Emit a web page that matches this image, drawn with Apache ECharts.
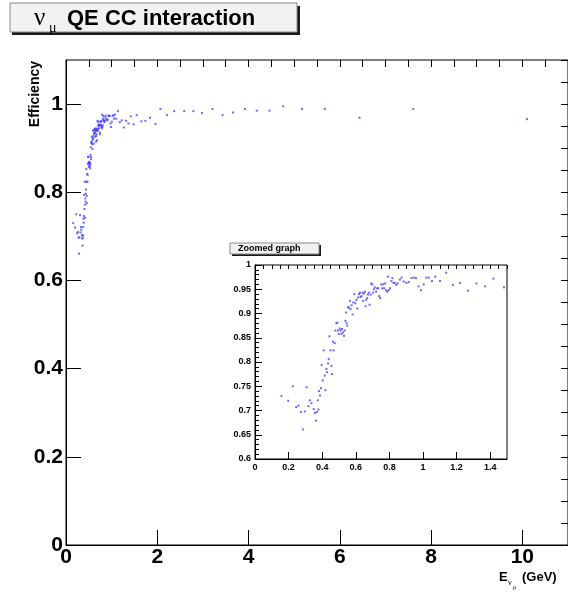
<!DOCTYPE html>
<html>
<head>
<meta charset="utf-8">
<script src="https://cdn.jsdelivr.net/npm/echarts@6/dist/echarts.min.js"></script>
<style>
  html, body { margin: 0; padding: 0; background: #ffffff; }
  #chart { width: 568px; height: 593px; }
</style>
</head>
<body>
<div id="chart"></div>
<script>
// Muon-neutrino QE CC selection efficiency versus neutrino energy (GeV)
const energyGeV = [
  0.158, 0.198, 0.225, 0.245, 0.259, 0.273, 0.285, 0.296, 0.308, 0.318,
  0.326, 0.336, 0.350, 0.356, 0.362, 0.368, 0.374, 0.377, 0.381, 0.387,
  0.393, 0.397, 0.403, 0.409, 0.415, 0.419, 0.425, 0.429, 0.435, 0.439,
  0.443, 0.449, 0.455, 0.458, 0.464, 0.468, 0.474, 0.478, 0.484, 0.490,
  0.494, 0.498, 0.504, 0.510, 0.514, 0.518, 0.524, 0.530, 0.534, 0.538,
  0.542, 0.545, 0.549, 0.553, 0.559, 0.565, 0.569, 0.575, 0.581, 0.585,
  0.591, 0.597, 0.603, 0.609, 0.613, 0.619, 0.625, 0.628, 0.634, 0.640,
  0.644, 0.648, 0.654, 0.658, 0.662, 0.668, 0.672, 0.678, 0.682, 0.688,
  0.692, 0.698, 0.702, 0.708, 0.713, 0.721, 0.727, 0.733, 0.739, 0.745,
  0.751, 0.757, 0.763, 0.769, 0.775, 0.781, 0.787, 0.791, 0.796, 0.804,
  0.812, 0.818, 0.824, 0.832, 0.840, 0.850, 0.862, 0.872, 0.885, 0.901,
  0.915, 0.931, 0.945, 0.958, 0.974, 0.988, 1.004, 1.020, 1.034, 1.053,
  1.073, 1.101, 1.138, 1.178, 1.221, 1.267, 1.318, 1.370, 1.419, 1.482,
  1.55, 1.65, 1.74, 1.84, 1.96, 2.07, 2.21, 2.37, 2.59, 2.79,
  2.98, 3.21, 3.43, 3.66, 3.92, 4.18, 4.46, 4.76, 5.17, 5.67,
  6.43, 7.61, 10.10
];
const efficiency = [
  0.730, 0.720, 0.750, 0.707, 0.710, 0.697, 0.661, 0.698, 0.748, 0.709,
  0.721, 0.715, 0.703, 0.695, 0.679, 0.697, 0.721, 0.702, 0.740, 0.731,
  0.746, 0.794, 0.762, 0.824, 0.772, 0.742, 0.786, 0.779, 0.797, 0.806,
  0.853, 0.824, 0.792, 0.775, 0.842, 0.824, 0.839, 0.865, 0.880, 0.881,
  0.865, 0.858, 0.869, 0.865, 0.858, 0.868, 0.861, 0.854, 0.865, 0.885,
  0.902, 0.880, 0.875, 0.913, 0.912, 0.926, 0.909, 0.917, 0.898, 0.923,
  0.940, 0.921, 0.928, 0.910, 0.933, 0.940, 0.943, 0.934, 0.936, 0.943,
  0.926, 0.941, 0.945, 0.915, 0.928, 0.932, 0.939, 0.943, 0.918, 0.939,
  0.962, 0.960, 0.943, 0.950, 0.954, 0.945, 0.952, 0.952, 0.936, 0.932,
  0.960, 0.952, 0.960, 0.952, 0.962, 0.948, 0.945, 0.976, 0.948, 0.952,
  0.967, 0.973, 0.963, 0.963, 0.959, 0.962, 0.970, 0.974, 0.966, 0.963,
  0.965, 0.973, 0.974, 0.973, 0.956, 0.948, 0.960, 0.974, 0.974, 0.967,
  0.976, 0.967, 0.984, 0.959, 0.963, 0.947, 0.962, 0.956, 0.972, 0.954,
  0.975, 0.961, 0.962, 0.969, 0.955, 0.989, 0.975, 0.984, 0.984, 0.984,
  0.980, 0.989, 0.975, 0.981, 0.989, 0.985, 0.985, 0.995, 0.989, 0.989,
  0.969, 0.989, 0.966
];

// Axis ranges and tick spacing
const mainXRange = [0, 11];
const mainYRange = [0, 1.1];
const mainXStep = [2, 0.5];      // labelled ticks, small ticks
const mainYStep = [0.2, 0.05];
const zoomXRange = [0, 1.5];
const zoomYRange = [0.6, 1.0];
const zoomXStep = [0.2, 0.05];
const zoomYStep = [0.05, 0.01];

const points = energyGeV.map((e, i) => [e, efficiency[i]]);

const FONT = '"Liberation Sans", Arial, Helvetica, sans-serif';
const SERIF = '"Liberation Serif", "DejaVu Serif", serif';
const black = '#000000';

function labelAxis(grid, range, step, opts) {
  return Object.assign({
    type: 'value', gridIndex: grid, min: range[0], max: range[1], interval: step,
    axisLine: { show: true, onZero: false, lineStyle: { color: black, width: 1 } },
    axisTick: { show: true, inside: true, length: opts.tickLen, lineStyle: { color: black, width: 1 } },
    axisLabel: {
      show: true, showMaxLabel: opts.showMax === true, color: black, fontFamily: FONT, fontWeight: 'bold',
      fontSize: opts.fontSize, margin: opts.margin
    },
    splitLine: { show: false }
  }, opts.extra || {});
}
function smallTickAxis(grid, range, step, len, extra) {
  return Object.assign({
    type: 'value', gridIndex: grid, min: range[0], max: range[1], interval: step,
    axisLine: { show: false, onZero: false },
    axisTick: { show: true, inside: true, length: len, lineStyle: { color: black, width: 1 } },
    axisLabel: { show: false },
    splitLine: { show: false }
  }, extra || {});
}

const chart = echarts.init(document.getElementById('chart'), null, { renderer: 'canvas' });

chart.setOption({
  animation: false,
  backgroundColor: '#ffffff',
  grid: [
    { left: 66, top: 60, width: 504, height: 485, show: true, borderColor: black, borderWidth: 1, backgroundColor: 'transparent' },
    { left: 255, top: 265, width: 252, height: 194, show: true, borderColor: black, borderWidth: 1, backgroundColor: '#ffffff' }
  ],
  xAxis: [
    labelAxis(0, mainXRange, mainXStep[0], { tickLen: 15, fontSize: 21, margin: 2 }),
    smallTickAxis(0, mainXRange, mainXStep[1], 7),
    labelAxis(1, zoomXRange, zoomXStep[0], { tickLen: 7, fontSize: 9, margin: 4 }),
    smallTickAxis(1, zoomXRange, zoomXStep[1], 4)
  ],
  yAxis: [
    labelAxis(0, mainYRange, mainYStep[0], { tickLen: 15, fontSize: 21, margin: 3 }),
    smallTickAxis(0, mainYRange, mainYStep[1], 7),
    labelAxis(1, zoomYRange, zoomYStep[0], {
      tickLen: 7, fontSize: 9, margin: 4, showMax: true,
      extra: { minorTick: { show: true, splitNumber: 5, length: 4, lineStyle: { color: black, width: 1 } } }
    })
  ],
  series: [
    {
      type: 'scatter', xAxisIndex: 0, yAxisIndex: 0, data: points,
      symbol: 'rect', symbolSize: 2, itemStyle: { color: '#3a3aff', opacity: 0.75 }, silent: true
    },
    {
      type: 'scatter', xAxisIndex: 2, yAxisIndex: 2, data: points, clip: true,
      symbol: 'rect', symbolSize: 2, itemStyle: { color: '#3a3aff', opacity: 0.75 }, silent: true
    }
  ],
  graphic: [
    // title box with drop shadow
    { type: 'rect', shape: { x: 12, y: 6, width: 288, height: 29 }, style: { fill: '#1a1a1a' }, z: 10 },
    { type: 'rect', shape: { x: 10, y: 3, width: 287, height: 29 }, style: { fill: '#f2f2f2', stroke: '#8a8a8a', lineWidth: 1 }, z: 11 },
    { type: 'text', x: 34, y: 18, style: { text: 'ν', font: '25px ' + SERIF, fill: black, verticalAlign: 'middle' }, z: 12 },
    { type: 'text', x: 49, y: 28, style: { text: 'μ', font: '14px ' + SERIF, fill: black, verticalAlign: 'middle' }, z: 12 },
    { type: 'text', x: 67, y: 19, style: { text: 'QE CC interaction', font: 'bold 22px ' + FONT, fill: black, verticalAlign: 'middle' }, z: 12 },

    // inset title box
    { type: 'rect', shape: { x: 232, y: 245, width: 89, height: 11 }, style: { fill: '#1a1a1a' }, z: 10 },
    { type: 'rect', shape: { x: 230, y: 243, width: 89, height: 11 }, style: { fill: '#f2f2f2', stroke: '#8a8a8a', lineWidth: 1 }, z: 11 },
    { type: 'text', x: 238, y: 249, style: { text: 'Zoomed graph', font: 'bold 9px ' + FONT, fill: black, verticalAlign: 'middle' }, z: 12 },

    // axis titles
    { type: 'text', x: 35, y: 61, rotation: Math.PI / 2,
      style: { text: 'Efficiency', font: 'bold 14px ' + FONT, fill: black, align: 'right', verticalAlign: 'middle' }, z: 12 },
    { type: 'text', x: 499, y: 577, style: { text: 'E', font: 'bold 13px ' + FONT, fill: black, verticalAlign: 'middle' }, z: 12 },
    { type: 'text', x: 508, y: 583, style: { text: 'ν', font: '8px ' + SERIF, fill: black, verticalAlign: 'middle' }, z: 12 },
    { type: 'text', x: 513, y: 587, style: { text: 'μ', font: '6px ' + SERIF, fill: black, verticalAlign: 'middle' }, z: 12 },
    { type: 'text', x: 522, y: 577, style: { text: '(GeV)', font: 'bold 13px ' + FONT, fill: black, verticalAlign: 'middle' }, z: 12 }
  ]
});
</script>
</body>
</html>
